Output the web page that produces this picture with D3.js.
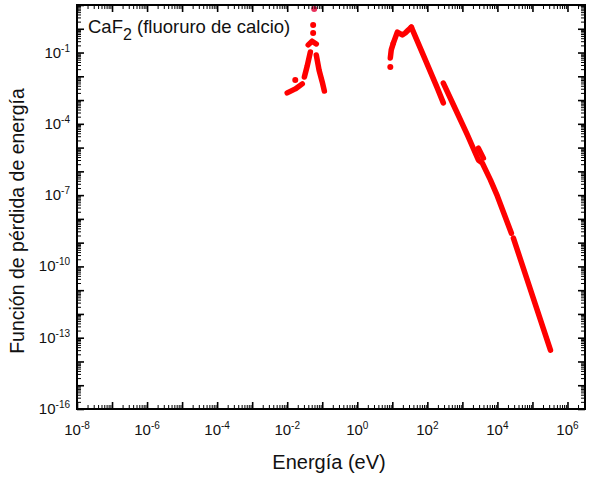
<!DOCTYPE html>
<html>
<head>
<meta charset="utf-8">
<script src="https://cdn.jsdelivr.net/npm/d3@7"></script>
<style>
  html, body { margin: 0; padding: 0; background: #fff; }
  svg { display: block; font-family: "Liberation Sans", Arial, Helvetica, sans-serif; }
</style>
</head>
<body>
<svg id="chart" width="589" height="477"></svg>
<script>
// Energy-loss function of CaF2 across the full energy range (eV).
// Each run of measured points is kept as its own pair of arrays.

// Infrared (phonon) region
const irLowE    = [0.0100, 0.0170, 0.0269];
const irLowLoss = [2.0e-3, 2.95e-3, 4.8e-3];
const irRiseE    = [0.0309, 0.0372, 0.0457];
const irRiseLoss = [9.3e-3, 2.7e-2, 0.105];
const irPeakE    = [0.0398, 0.0513, 0.0676];
const irPeakLoss = [0.21, 0.30, 0.23];
const irFallE    = [0.0676, 0.0813, 0.100, 0.115];
const irFallLoss = [0.079, 0.018, 5.8e-3, 2.4e-3];
const irDotsE    = [0.0170, 0.0550, 0.0550, 0.0589];
const irDotsLoss = [6.9e-3, 0.66, 1.45, 6.8];

// Valence region
const valRiseE    = [8.77, 9.33, 10.7];
const valRiseLoss = [0.059, 0.129, 0.25];
const valPeakE    = [10.7, 13.9, 19.3, 23.4, 28.6, 34.9];
const valPeakLoss = [0.25, 0.72, 0.55, 0.66, 0.89, 1.17];
const valFallE    = [34.9, 87.7, 193, 286];
const valFallLoss = [1.17, 0.049, 3.2e-3, 7.6e-4];
const valDotsE    = [8.77];
const valDotsLoss = [0.0245];

// Core-level tail
const coreE    = [286, 631, 1390, 2860, 3730, 6310, 1.0e4, 2.51e4];
const coreLoss = [5.2e-3, 4.2e-4, 3.4e-5, 3.0e-6, 2.2e-6, 4.4e-7, 9.0e-8, 2.5e-9];
const edgeE    = [2860, 3980];
const edgeLoss = [9.5e-6, 3.6e-6];
const highE    = [2.86e4, 3.27e5];
const highLoss = [1.55e-9, 3.0e-14];

// Axis decades
const xDecades = d3.range(-8, 7);          // 1e-8 ... 1e6
const xLabelDecades = [-8, -6, -4, -2, 0, 2, 4, 6];
const yDecades = d3.range(-16, 2);         // 1e-16 ... 1e1
const yLabelDecades = [-16, -13, -10, -7, -4, -1];

const svg = d3.select("#chart");
const plotL = 77, plotR = 585, plotT = 5, plotB = 409;

const x = d3.scaleLog().domain([1e-8, Math.pow(10, 6.5)]).range([plotL, plotR]);
const y = d3.scaleLog().domain([1e-16, 10]).range([plotB, plotT]);

function minors(decades, lo, hi) {
  const out = [];
  decades.forEach(d => {
    for (let k = 2; k <= 9; k++) {
      const v = k * Math.pow(10, d);
      if (v > lo && v < hi) out.push(v);
    }
  });
  return out;
}
const xMajor = xDecades.map(d => Math.pow(10, d));
const xMinor = minors(d3.range(-8, 7), x.domain()[0], x.domain()[1]);
const yMajor = yDecades.map(d => Math.pow(10, d));
const yMinor = minors(d3.range(-16, 1), y.domain()[0], y.domain()[1]);

// ---- data ----
const red = "#ff0000";
const line = d3.line().x(d => x(d[0])).y(d => y(d[1]));
const dataLayer = svg.append("g");

function run(es, ls) {
  const pts = es.map((e, i) => [e, ls[i]]);
  dataLayer.append("path")
    .attr("d", line(pts))
    .attr("fill", "none")
    .attr("stroke", red)
    .attr("stroke-width", 5.5)
    .attr("stroke-linecap", "round")
    .attr("stroke-linejoin", "round");
}
function dots(es, ls, color) {
  dataLayer.selectAll(null)
    .data(es.map((e, i) => [e, ls[i]]))
    .enter().append("circle")
    .attr("cx", d => x(d[0]))
    .attr("cy", d => y(d[1]))
    .attr("r", 3)
    .attr("fill", color || red);
}

run(irLowE, irLowLoss);
run(irRiseE, irRiseLoss);
run(irPeakE, irPeakLoss);
run(irFallE, irFallLoss);
dots(irDotsE.slice(0, 3), irDotsLoss.slice(0, 3));
dots(irDotsE.slice(3), irDotsLoss.slice(3), "#e8305a");

run(valRiseE, valRiseLoss);
run(valPeakE, valPeakLoss);
run(valFallE, valFallLoss);
dots(valDotsE, valDotsLoss);

run(coreE, coreLoss);
run(edgeE, edgeLoss);
run(highE, highLoss);

// ---- axes (ticks point into the plot on all four sides) ----
function addAxis(axisFn, scale, vals, size, transform, width) {
  svg.append("g")
    .attr("transform", transform)
    .call(axisFn(scale).tickValues(vals).tickSize(-size).tickFormat(""))
    .call(g => g.select(".domain").remove())
    .call(g => g.selectAll("line").attr("stroke", "#000").attr("stroke-width", width));
}
addAxis(d3.axisBottom, x, xMajor, 7, `translate(0,${plotB})`, 1.6);
addAxis(d3.axisBottom, x, xMinor, 4, `translate(0,${plotB})`, 1);
addAxis(d3.axisTop, x, xMajor, 7, `translate(0,${plotT})`, 1.6);
addAxis(d3.axisTop, x, xMinor, 4, `translate(0,${plotT})`, 1);
addAxis(d3.axisLeft, y, yMajor, 7, `translate(${plotL},0)`, 1.6);
addAxis(d3.axisLeft, y, yMinor, 4, `translate(${plotL},0)`, 1);
addAxis(d3.axisRight, y, yMajor, 7, `translate(${plotR},0)`, 1.6);
addAxis(d3.axisRight, y, yMinor, 4, `translate(${plotR},0)`, 1);

svg.append("rect")
  .attr("x", plotL).attr("y", plotT)
  .attr("width", plotR - plotL).attr("height", plotB - plotT)
  .attr("fill", "none").attr("stroke", "#000").attr("stroke-width", 2);

// ---- tick labels ----
function power(sel, exp) {
  sel.append("tspan").text("10");
  sel.append("tspan").attr("dy", -6).attr("font-size", 10).text(exp);
}
xLabelDecades.forEach(d => {
  const t = svg.append("text")
    .attr("x", x(Math.pow(10, d)))
    .attr("y", plotB + 26)
    .attr("text-anchor", "middle")
    .attr("font-size", 15)
    .attr("fill", "#111");
  power(t, d);
});
yLabelDecades.forEach(d => {
  const t = svg.append("text")
    .attr("x", plotL - 7)
    .attr("y", y(Math.pow(10, d)) + 5)
    .attr("text-anchor", "end")
    .attr("font-size", 15)
    .attr("fill", "#111");
  power(t, d);
});

// ---- titles ----
svg.append("text")
  .attr("x", 329).attr("y", 469)
  .attr("text-anchor", "middle")
  .attr("font-size", 20)
  .attr("fill", "#111")
  .text("Energía (eV)");

svg.append("text")
  .attr("transform", "translate(24,221) rotate(-90)")
  .attr("text-anchor", "middle")
  .attr("font-size", 19.5)
  .attr("fill", "#111")
  .text("Función de pérdida de energía");

const note = svg.append("text")
  .attr("x", 88).attr("y", 33)
  .attr("font-size", 18.5)
  .attr("fill", "#111");
note.append("tspan").text("CaF");
note.append("tspan").attr("dy", 7).attr("font-size", 16).text("2");
note.append("tspan").attr("dy", -7).text(" (fluoruro de calcio)");
</script>
</body>
</html>
